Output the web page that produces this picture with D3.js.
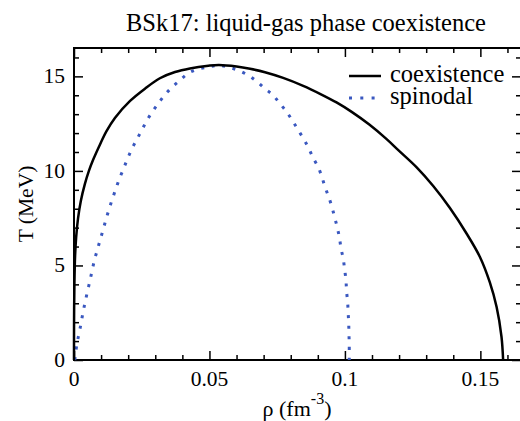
<!DOCTYPE html>
<html>
<head>
<meta charset="utf-8">
<script src="https://cdn.jsdelivr.net/npm/d3@7"></script>
<style>
  html, body { margin: 0; padding: 0; background: #fff; }
  svg { display: block; }
  svg text { font-family: 'Liberation Serif', 'Times New Roman', Times, Tinos, serif; }
</style>
</head>
<body>
<svg id="chart" width="520" height="421"></svg>
<script>
// Coexistence curve: density (fm^-3) and temperature (MeV)
const coexRho = [0, 0.00002, 0.00015, 0.0004, 0.0008, 0.0015, 0.0025, 0.004, 0.0055, 0.0071,
  0.0096, 0.012, 0.0151, 0.0207, 0.0262, 0.0317, 0.0373, 0.0428, 0.0496, 0.0535,
  0.06, 0.065, 0.0705, 0.0772, 0.0846, 0.0908, 0.0969, 0.1025, 0.109, 0.1154,
  0.1197, 0.1264, 0.1326, 0.1387, 0.1449, 0.1498, 0.1535, 0.156, 0.1578, 0.1584];
const coexT = [0, 2, 4, 5.5, 6.5, 7.5, 8.4, 9.3, 10.0, 10.6,
  11.4, 12.1, 12.8, 13.7, 14.35, 14.9, 15.23, 15.42, 15.56, 15.6,
  15.52, 15.4, 15.22, 14.92, 14.5, 14.08, 13.62, 13.12, 12.45, 11.68,
  11.1, 10.2, 9.2, 8.05, 6.69, 5.46, 4.1, 2.8, 1.23, 0];

// Spinodal curve
const spinRho = [0.0003, 0.001, 0.0018, 0.0026, 0.0033, 0.0041, 0.0049, 0.0058, 0.0066, 0.0075,
  0.0085, 0.0096, 0.0107, 0.0118, 0.0129, 0.0141, 0.0154, 0.0167, 0.0182, 0.0197,
  0.0213, 0.0231, 0.025, 0.0268, 0.0289, 0.0311, 0.0336, 0.0363, 0.0391, 0.042,
  0.0455, 0.0496, 0.0532, 0.0569, 0.0606, 0.0643, 0.0674, 0.0705, 0.0735, 0.076,
  0.0785, 0.0807, 0.0828, 0.0849, 0.0867, 0.0883, 0.0902, 0.0916, 0.0928, 0.094,
  0.0952, 0.0962, 0.0972, 0.098, 0.0986, 0.0994, 0.0999, 0.1004, 0.1006, 0.101,
  0.1012, 0.1014, 0.1015, 0.1016, 0.1016];
const spinT = [0, 0.79, 1.36, 1.94, 2.5, 3.05, 3.58, 4.14, 4.67, 5.25,
  5.77, 6.32, 6.87, 7.43, 7.96, 8.49, 9.03, 9.56, 10.09, 10.62,
  11.15, 11.64, 12.15, 12.64, 13.12, 13.56, 14.03, 14.44, 14.79, 15.15,
  15.37, 15.5, 15.58, 15.49, 15.32, 15.06, 14.74, 14.35, 14.0, 13.56,
  13.12, 12.64, 12.15, 11.66, 11.18, 10.68, 10.18, 9.63, 9.09, 8.63,
  8.1, 7.55, 7.0, 6.44, 5.88, 5.34, 4.79, 4.21, 3.65, 3.08,
  2.5, 1.94, 1.37, 0.81, 0];

// Axis ticks
const xMajor = [0, 0.05, 0.1, 0.15];
const xMajorLabels = ["0", "0.05", "0.1", "0.15"];
const xMinor = [0.01, 0.02, 0.03, 0.04, 0.06, 0.07, 0.08, 0.09, 0.11, 0.12, 0.13, 0.14, 0.16];
const yMajor = [0, 5, 10, 15];
const yMajorLabels = ["0", "5", "10", "15"];
const yMinor = [1, 2, 3, 4, 6, 7, 8, 9, 11, 12, 13, 14, 16];

const seriesNames = ["coexistence", "spinodal"];
const seriesColors = ["#000000", "#3a58c0"];

const titleText = "BSk17: liquid-gas phase coexistence";

const svg = d3.select("#chart");
const margin = { left: 74, top: 48, right: 521, bottom: 360 };

const x = d3.scaleLinear().domain([0, 0.165]).range([margin.left, margin.right]);
const y = d3.scaleLinear().domain([0, 16.5]).range([margin.bottom, margin.top]);

const majorLen = 9, minorLen = 5;

// Frame
svg.append("rect")
  .attr("x", margin.left).attr("y", margin.top)
  .attr("width", margin.right - margin.left).attr("height", margin.bottom - margin.top)
  .attr("fill", "none").attr("stroke", "#000").attr("stroke-width", 2);

// Tick marks drawn inward on all four sides
function ticks(axisFn, scale, values, len, translate) {
  const g = svg.append("g").attr("transform", translate)
    .call(axisFn(scale).tickValues(values).tickSizeInner(-len).tickSizeOuter(0).tickFormat(""));
  g.select(".domain").remove();
  g.selectAll(".tick line").attr("stroke", "#000").attr("stroke-width", 1.5);
  return g;
}
ticks(d3.axisBottom, x, xMajor, majorLen, `translate(0,${margin.bottom})`);
ticks(d3.axisBottom, x, xMinor, minorLen, `translate(0,${margin.bottom})`);
ticks(d3.axisTop, x, xMajor, majorLen, `translate(0,${margin.top})`);
ticks(d3.axisTop, x, xMinor, minorLen, `translate(0,${margin.top})`);
ticks(d3.axisLeft, y, yMajor, majorLen, `translate(${margin.left},0)`);
ticks(d3.axisLeft, y, yMinor, minorLen, `translate(${margin.left},0)`);
ticks(d3.axisRight, y, yMajor, majorLen, `translate(${margin.right},0)`);
ticks(d3.axisRight, y, yMinor, minorLen, `translate(${margin.right},0)`);

// Tick labels
svg.append("g").selectAll("text").data(xMajor).join("text")
  .attr("x", d => x(d)).attr("y", 386)
  .attr("text-anchor", "middle").attr("font-size", 21.5)
  .text((d, i) => xMajorLabels[i]);
svg.append("g").selectAll("text").data(yMajor).join("text")
  .attr("x", 65).attr("y", d => y(d) + 7)
  .attr("text-anchor", "end").attr("font-size", 21.5)
  .text((d, i) => yMajorLabels[i]);

// Axis titles
const xt = svg.append("text").attr("x", 297).attr("y", 416)
  .attr("text-anchor", "middle").attr("font-size", 22);
xt.append("tspan").text("ρ (fm");
xt.append("tspan").attr("dy", -12).attr("font-size", 16).text("-3");
xt.append("tspan").attr("dy", 12).text(")");

svg.append("text")
  .attr("transform", `translate(33,${(margin.top + margin.bottom) / 2}) rotate(-90)`)
  .attr("text-anchor", "middle").attr("font-size", 21.5)
  .text("T (MeV)");

// Title
svg.append("text").attr("x", 306).attr("y", 31)
  .attr("text-anchor", "middle").attr("font-size", 24.5)
  .text(titleText);

// Curves
const line = d3.line().x(d => x(d[0])).y(d => y(d[1])).curve(d3.curveCatmullRom.alpha(0.5));
const coex = coexRho.map((r, i) => [r, coexT[i]]);
const spin = spinRho.map((r, i) => [r, spinT[i]]);

svg.append("path").datum(spin)
  .attr("d", line).attr("fill", "none")
  .attr("stroke", seriesColors[1]).attr("stroke-width", 3)
  .attr("stroke-dasharray", "3,7.6");

svg.append("path").datum(coex)
  .attr("d", line).attr("fill", "none")
  .attr("stroke", seriesColors[0]).attr("stroke-width", 2.5)
  .attr("stroke-linejoin", "round");

// Legend
const legend = svg.append("g");
const legendY = [76, 98];
legend.selectAll("line").data(seriesNames).join("line")
  .attr("x1", 349).attr("x2", 381)
  .attr("y1", (d, i) => legendY[i]).attr("y2", (d, i) => legendY[i])
  .attr("stroke", (d, i) => seriesColors[i])
  .attr("stroke-width", (d, i) => i === 0 ? 2.5 : 3)
  .attr("stroke-dasharray", (d, i) => i === 0 ? null : "3,8.3");
legend.selectAll("text").data(seriesNames).join("text")
  .attr("x", 390).attr("y", (d, i) => legendY[i] + 6)
  .attr("font-size", 24.5)
  .text(d => d);
</script>
</body>
</html>
